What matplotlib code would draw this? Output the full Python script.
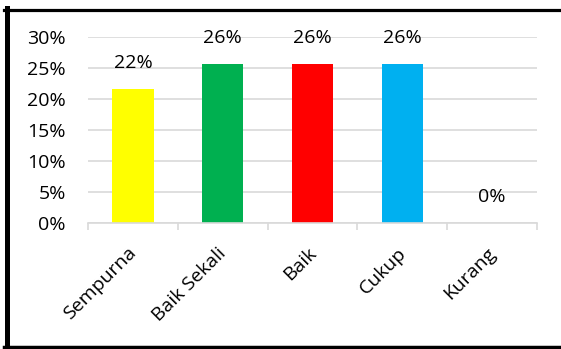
import matplotlib.pyplot as plt
import matplotlib.transforms as mtransforms
from matplotlib.lines import Line2D
from matplotlib.ticker import FuncFormatter

# penilaian categories and their share
categories = ["Sempurna", "Baik Sekali", "Baik", "Cukup", "Kurang"]
values = [0.216, 0.257, 0.257, 0.257, 0.0]
labels = ["22%", "26%", "26%", "26%", "0%"]
colors = ["#FFFF00", "#00B050", "#FF0000", "#00B0F0", "#7F7F7F"]

plt.rcParams['font.family'] = ['Open Sans', 'DejaVu Sans']
FS = 14

fig = plt.figure(figsize=(5.61, 3.49), dpi=100)
ax = fig.add_axes([88/561, 1 - 223/349, 449/561, 186/349])

xs = list(range(len(categories)))
ax.bar(xs, values, width=0.46, color=colors, zorder=2)

# data labels above each bar
for x, v, lab in zip(xs, values, labels):
    ax.annotate(lab, (x, v), xytext=(0, 15), textcoords='offset points',
                ha='center', va='baseline', fontsize=FS, color='black')

ax.set_xlim(-0.5, len(categories) - 0.5)
ax.set_ylim(0, 0.30)
ax.set_yticks([0, 0.05, 0.10, 0.15, 0.20, 0.25, 0.30])
ax.yaxis.set_major_formatter(FuncFormatter(lambda v, p: "%d%%" % round(v * 100)))
ax.grid(axis='y', color='#d9d9d9', linewidth=1.2, zorder=0)

# category ticks sit on the boundaries between bars
ax.set_xticks([x - 0.5 for x in xs] + [len(categories) - 0.5])
ax.set_xticklabels([])
ax.set_xticks(xs, minor=True)
ax.set_xticklabels(categories, minor=True, rotation=45, ha='right',
                   rotation_mode='anchor', fontsize=FS)
ax.tick_params(axis='x', which='major', direction='out', length=5,
               color='#d9d9d9', width=1.2)
ax.tick_params(axis='x', which='minor', length=0, pad=15)
ax.tick_params(axis='y', length=0, pad=16, labelsize=FS)

# nudge the slanted labels a little to the left
shift = mtransforms.ScaledTranslation(-4/72, 0, fig.dpi_scale_trans)
for t in ax.get_xticklabels(minor=True):
    t.set_transform(t.get_transform() + shift)

for s in ['top', 'right', 'left']:
    ax.spines[s].set_visible(False)
ax.spines['bottom'].set_color('#d9d9d9')
ax.spines['bottom'].set_linewidth(1.2)

# black frame round the chart (the right side falls outside the picture)
W, H = 561.0, 349.0
fig.add_artist(Line2D([4/W, 1], [1 - 9.5/H, 1 - 9.5/H], color='black', lw=2.3,
                      transform=fig.transFigure))
fig.add_artist(Line2D([6.5/W, 6.5/W], [1 - 347/H, 1 - 8/H], color='black', lw=3.6,
                      transform=fig.transFigure))
fig.add_artist(Line2D([4/W, 1], [1 - 347.3/H, 1 - 347.3/H], color='black', lw=2.5,
                      transform=fig.transFigure))

fig.savefig("out.png", dpi=100)
